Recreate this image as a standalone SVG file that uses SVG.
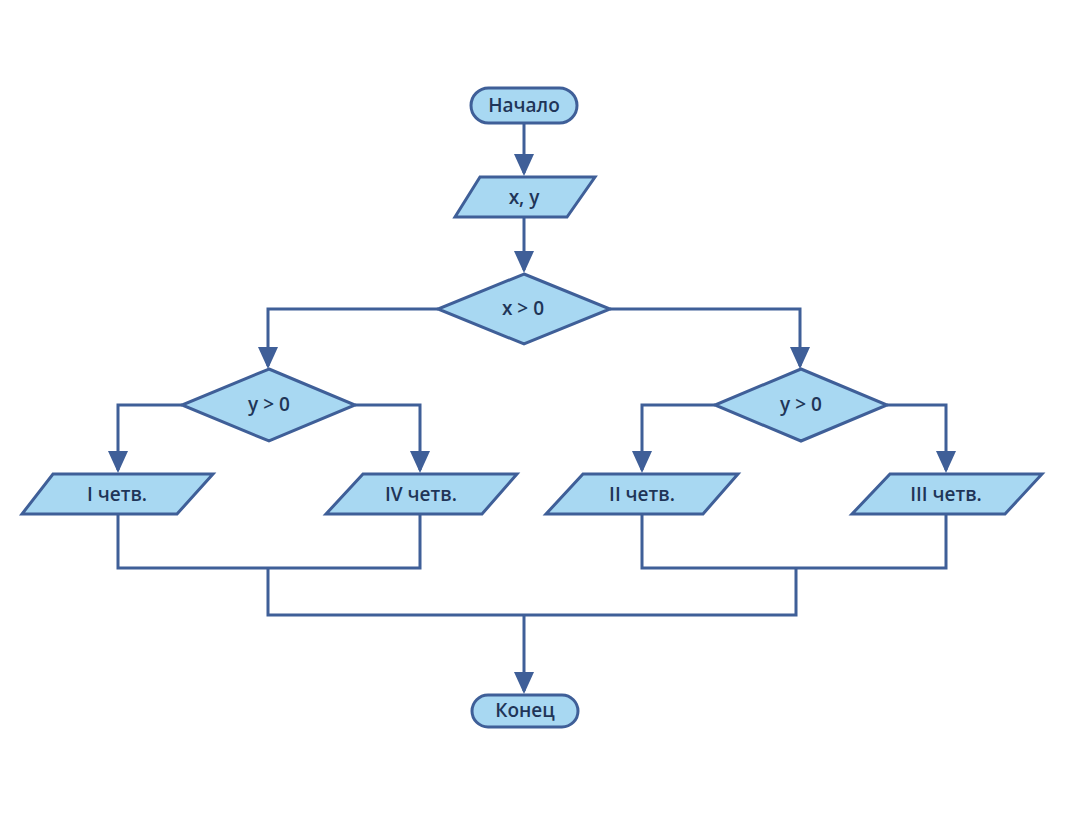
<svg xmlns="http://www.w3.org/2000/svg" width="1080" height="828" viewBox="0 0 1080 828">
<defs>
<style>
.shape{fill:#a8d8f2;stroke:#3f5f98;stroke-width:3;stroke-linejoin:miter}
.conn{fill:none;stroke:#3f5f98;stroke-width:3}
.lbl{font-family:"Open Sans",Lato,"Liberation Sans",sans-serif;font-weight:600;font-size:19px;fill:#1f3558;text-anchor:middle;dominant-baseline:central}
</style>
<marker id="arr" viewBox="0 0 22 20" refX="19" refY="10" markerWidth="22" markerHeight="20" markerUnits="userSpaceOnUse" orient="auto">
<path d="M0,0 L22,10 L0,20 z" fill="#3f5f98"/>
</marker>
</defs>
<rect width="1080" height="828" fill="#ffffff"/>
<g id="connectors">
<path class="conn" d="M524,124 V173" marker-end="url(#arr)"/>
<path class="conn" d="M524,217 V270" marker-end="url(#arr)"/>
<path class="conn" d="M438,309 H268 V366" marker-end="url(#arr)"/>
<path class="conn" d="M610,309 H800 V366" marker-end="url(#arr)"/>
<path class="conn" d="M182,405 H118 V470" marker-end="url(#arr)"/>
<path class="conn" d="M355,405 H420 V470" marker-end="url(#arr)"/>
<path class="conn" d="M715,405 H642 V470" marker-end="url(#arr)"/>
<path class="conn" d="M887,405 H946 V470" marker-end="url(#arr)"/>
<path class="conn" d="M118,514 V568 H420 V514"/>
<path class="conn" d="M642,514 V568 H946 V514"/>
<path class="conn" d="M268,568 V615 H796 V568"/>
<path class="conn" d="M524,615 V691" marker-end="url(#arr)"/>
</g>
<g id="start">
<rect class="shape" x="471" y="88" width="106" height="35" rx="17.5"/>
<text class="lbl" x="524" y="105">Начало</text>
</g>
<g id="input">
<polygon class="shape" points="480,177 595,177 567,217 455,217"/>
<text class="lbl" x="524" y="197">x, y</text>
</g>
<g id="cond-x">
<polygon class="shape" points="524,274 610,309 524,344 438,309"/>
<text class="lbl" x="523" y="308">x &gt; 0</text>
</g>
<g id="cond-y-left">
<polygon class="shape" points="269,369 355,405 269,441 182,405"/>
<text class="lbl" x="269" y="404">y &gt; 0</text>
</g>
<g id="cond-y-right">
<polygon class="shape" points="801,369 887,405 801,441 715,405"/>
<text class="lbl" x="801" y="404">y &gt; 0</text>
</g>
<g id="q1">
<polygon class="shape" points="53,474 213,474 177,514 22,514"/>
<text class="lbl" x="117" y="494">I четв.</text>
</g>
<g id="q4">
<polygon class="shape" points="363,474 517,474 482,514 326,514"/>
<text class="lbl" x="421" y="494">IV четв.</text>
</g>
<g id="q2">
<polygon class="shape" points="583,474 738,474 703,514 546,514"/>
<text class="lbl" x="642" y="494">II четв.</text>
</g>
<g id="q3">
<polygon class="shape" points="890,474 1042,474 1005,514 852,514"/>
<text class="lbl" x="946" y="494">III четв.</text>
</g>
<g id="end">
<rect class="shape" x="472" y="695" width="106" height="32" rx="16"/>
<text class="lbl" x="525" y="710">Конец</text>
</g>
</svg>
